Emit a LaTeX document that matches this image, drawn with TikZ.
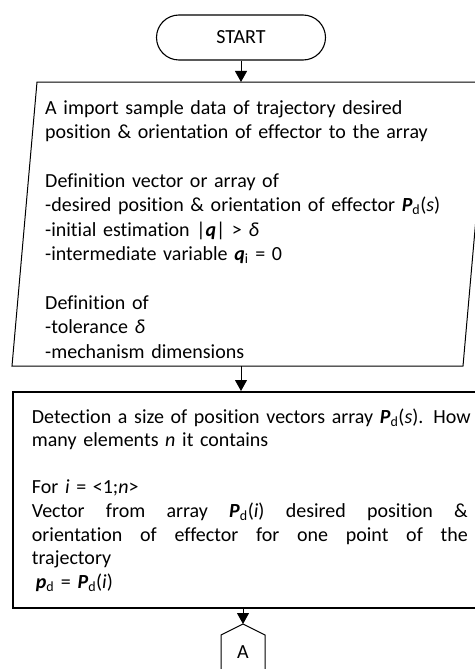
\documentclass[tikz,border=0pt]{standalone}
\usepackage{fontspec}
\setmainfont[Ligatures=NoCommon]{Carlito}
\usetikzlibrary{arrows.meta,shapes.misc}

\newcommand{\vecb}[1]{\textbf{\textit{#1}}}
\newcommand{\fullline}[1]{\leavevmode\hbox to 436pt{#1}}

\begin{document}
\begin{tikzpicture}[
  x=1pt,
  y=-1pt,
  every node/.style={font=\fontsize{20}{24.4}\selectfont, inner sep=0pt},
  terminal/.style={rounded rectangle, draw, line width=1.1pt,
    minimum width=169pt, minimum height=45pt},
  iotext/.style={anchor=north west, text width=440pt, align=left},
  procbox/.style={draw, line width=1.8pt, anchor=north west,
    font=\fontsize{20}{23.6}\selectfont, text width=445pt, align=left,
    inner xsep=19pt, minimum height=216pt},
  outline/.style={line width=1pt},
  flow/.style={line width=1pt, -{Triangle[width=12pt,length=11pt]}}
]
  \useasboundingbox (0,0) rectangle (474,669);

  % ---- start ------------------------------------------------------------
  \node[terminal] (start) at (241,37.5) {START};

  % ---- input of the sample data ------------------------------------------
  \coordinate (inNW) at (37,82);
  \coordinate (inNE) at (488,82);
  \coordinate (inSE) at (463,366);
  \coordinate (inSW) at (12,366);
  \draw[outline] (inNW) -- (inNE) -- (inSE) -- (inSW) -- cycle;
  \node[iotext] (input) at (45,100) {A import sample data of trajectory desired\\
    position \& orientation of effector to the array\\[24.4pt]
    Definition vector or array of\\
    -desired position \& orientation of effector \vecb{P}\textsubscript{d}(\textit{s})\\
    -initial estimation |\vecb{q}| > \textit{δ}\\
    -intermediate variable \vecb{q}\textsubscript{i} = 0\\[24.4pt]
    Definition of\\
    -tolerance \textit{δ}\\
    -mechanism dimensions};

  % ---- loop over the points ----------------------------------------------
  \node[procbox] (process) at (12,391) {\fullline{Detection \hfill a \hfill size \hfill of \hfill position \hfill vectors \hfill array \hfill \vecb{P}\textsubscript{d}(\textit{s}). \hfill How}\\
    many elements \textit{n} it contains\\[23.6pt]
    For \textit{i} = <1;\textit{n}>\\
    \fullline{Vector \hfill from \hfill array \hfill \vecb{P}\textsubscript{d}(\textit{i}) \hfill desired \hfill position \hfill \&}\\
    \fullline{orientation \hfill of \hfill effector \hfill for \hfill one \hfill point \hfill of \hfill the}\\
    trajectory\\
    \hspace*{4pt}\vecb{p}\textsubscript{d} = \vecb{P}\textsubscript{d}(\textit{i})};

  % ---- off-page connector ------------------------------------------------
  \coordinate (connTip) at (243,624);
  \draw[outline] (221,700) -- (221,635) -- (connTip) -- (265,635) -- (265,700);
  \node (conn) at (243,652) {A};

  % ---- flow --------------------------------------------------------------
  \draw[flow] (start.south) -- (start.south |- inNW);
  \draw[flow] (start.south |- inSW) -- (start.south |- process.north);
  \draw[flow] (connTip |- process.south) -- (connTip);
\end{tikzpicture}
\end{document}
